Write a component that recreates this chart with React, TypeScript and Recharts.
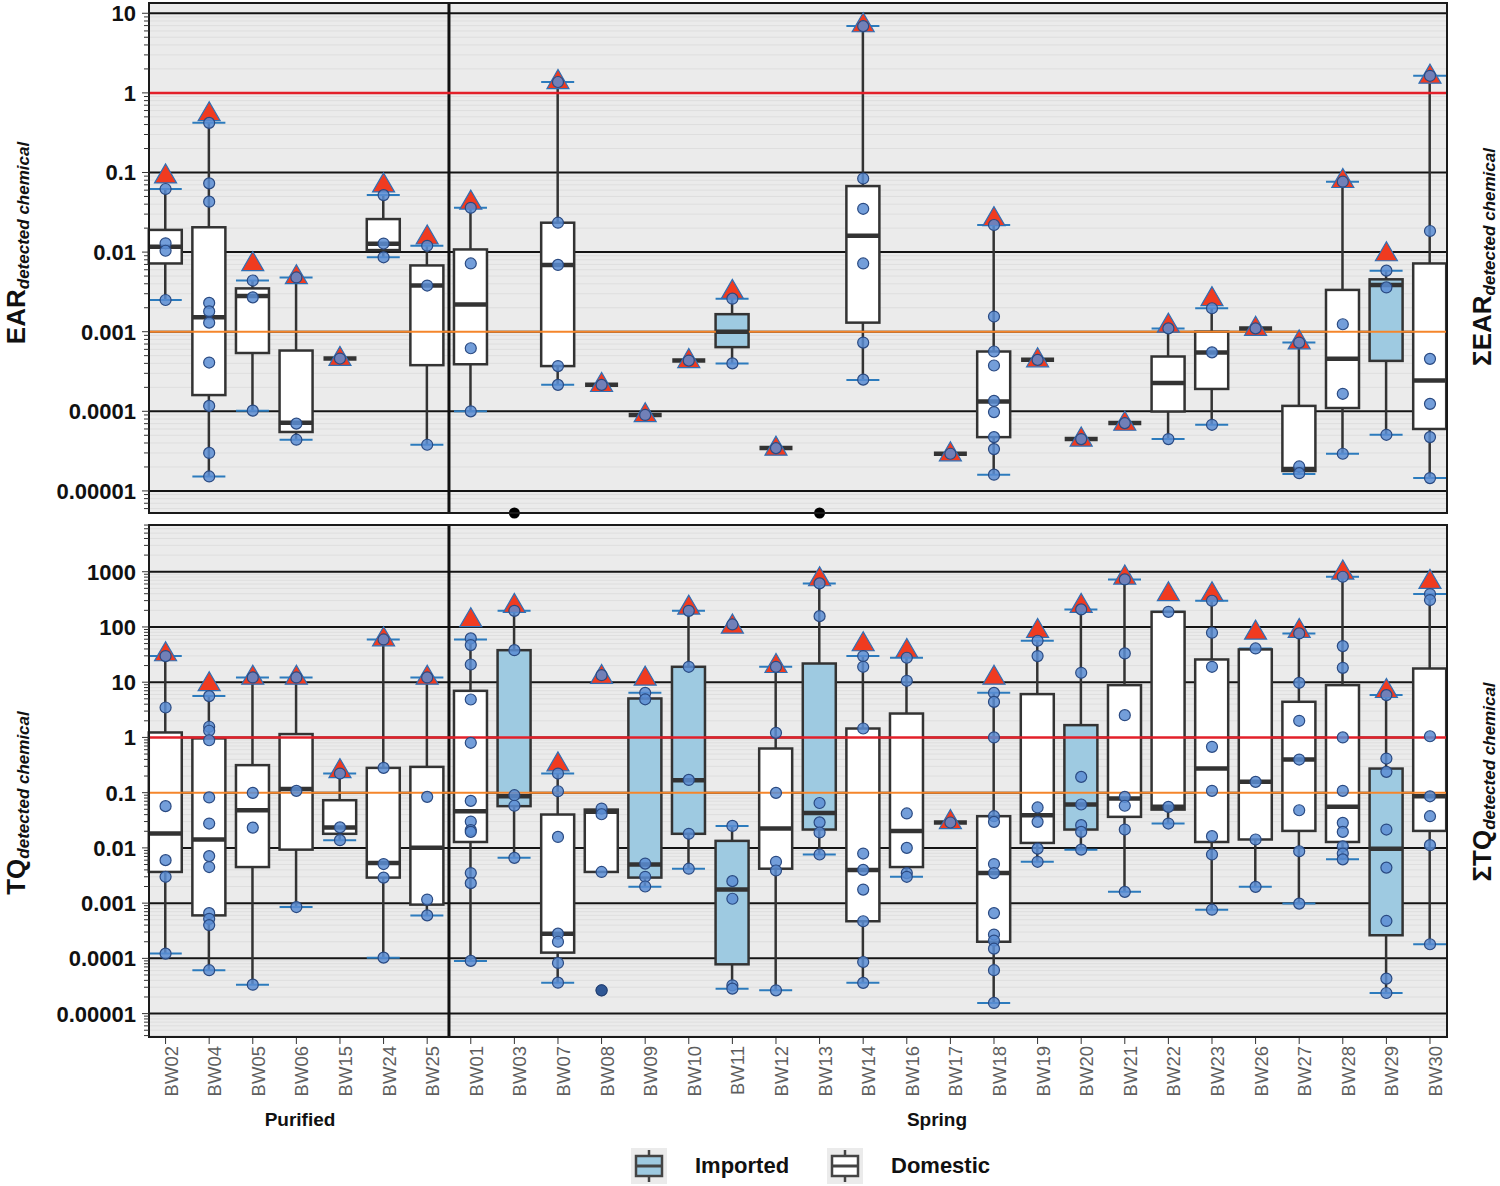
import React from "react";
import { ComposedChart, Bar, Scatter, XAxis, YAxis, CartesianGrid, ReferenceLine, ReferenceArea } from "recharts";

// sampling sites, in plotting order
const sites = [
  "BW02", "BW04", "BW05", "BW06", "BW15", "BW24", "BW25",
  "BW01", "BW03", "BW07", "BW08", "BW09", "BW10", "BW11", "BW12", "BW13", "BW14", "BW16",
  "BW17", "BW18", "BW19", "BW20", "BW21", "BW22", "BW23", "BW26", "BW27", "BW28", "BW29", "BW30",
];
const groupNames = ["Purified", "Spring"];

// ---- EAR panel ----
const earImported = ["BW11", "BW29"];
const earLow = [0.0025, 0.0000152, 0.000102, 0.000044, null, 0.0086, 0.000038, 0.0001, null, 0.000215, null, null, null, 0.0004, null, null, 0.000248, null, null, 0.000016, null, null, null, 0.0000448, 0.0000677, null, 0.0000163, 0.0000293, 0.0000507, 0.0000145];
const earHigh = [0.062, 0.42, 0.0044, 0.0048, null, 0.052, 0.012, 0.036, null, 1.37, null, null, null, 0.0026, null, null, 6.9, null, null, 0.0219, null, null, null, 0.0011, 0.00197, null, 0.00073, 0.0766, 0.00585, 1.64];
const earQ1 = [0.0072, 0.00016, 0.00054, 0.000055, null, 0.0106, 0.00038, 0.00039, null, 0.00037, null, null, null, 0.00064, null, null, 0.0013, null, null, 0.0000474, null, null, null, 0.0000995, 0.000191, null, 0.0000178, 0.00011, 0.00043, 0.00006];
const earQ3 = [0.019, 0.0205, 0.0035, 0.00058, null, 0.026, 0.0068, 0.0108, null, 0.0234, null, null, null, 0.00166, null, null, 0.0675, null, null, 0.000564, null, null, null, 0.000488, 0.001, null, 0.000117, 0.00335, 0.00455, 0.0072];
const earMedian = [0.0117, 0.00152, 0.0028, 0.000072, 0.00046, 0.0127, 0.0038, 0.0022, null, 0.0069, 0.000215, 0.00009, 0.000434, 0.001, 0.0000345, null, 0.016, null, 0.0000293, 0.000133, 0.000443, 0.0000448, 0.0000711, 0.000226, 0.000547, 0.0011, 0.0000188, 0.000456, 0.00386, 0.000244];
const earSum = [0.096, 0.58, 0.0076, 0.0052, 0.00049, 0.074, 0.0164, 0.045, null, 1.47, 0.00023, 0.000096, 0.00046, 0.0034, 0.0000365, null, 7.6, null, 0.000031, 0.0279, 0.00047, 0.0000475, 0.000075, 0.00128, 0.00276, 0.00117, 0.00079, 0.084, 0.0101, 1.72];
const earPoints = [
  [0.062, 0.0129, 0.0104, 0.0025],
  [0.42, 0.073, 0.043, 0.0023, 0.0018, 0.0013, 0.00041, 0.000117, 0.00003, 0.0000152],
  [0.0044, 0.0027, 0.000102],
  [0.0048, 0.00007, 0.000044],
  [0.00046],
  [0.052, 0.0128, 0.0086],
  [0.012, 0.0038, 0.000038],
  [0.036, 0.0072, 0.00062, 0.0001],
  [],
  [1.37, 0.0234, 0.0069, 0.00037, 0.000215],
  [0.000215],
  [0.00009],
  [0.000434],
  [0.0026, 0.0004],
  [0.0000345],
  [],
  [6.9, 0.084, 0.035, 0.0072, 0.00073, 0.00025],
  [],
  [0.0000293],
  [0.0219, 0.00155, 0.000564, 0.000376, 0.000135, 0.0000977, 0.0000474, 0.0000335, 0.000016],
  [0.000443],
  [0.0000448],
  [0.0000711],
  [0.0011, 0.0000448],
  [0.00197, 0.00055, 0.0000677],
  [0.0011],
  [0.00073, 0.0000203, 0.0000167],
  [0.0766, 0.00124, 0.000166, 0.0000293],
  [0.00585, 0.0036, 0.0000507],
  [1.64, 0.0184, 0.000456, 0.000124, 0.0000474, 0.0000145],
];
const earNonDetect = ["BW03", "BW13"];
const earTicks = [10, 1, 0.1, 0.01, 0.001, 0.0001, 0.00001];
const earTickLabels = ["10", "1", "0.1", "0.01", "0.001", "0.0001", "0.00001"];
const earRange = [0.00000528, 13.46];
const earRedLine = 1;
const earOrangeLine = 0.001;

// ---- TQ panel ----
const tqImported = ["BW03", "BW09", "BW10", "BW11", "BW13", "BW20", "BW29"];
const tqLow = [0.000122, 0.000061, 0.0000334, 0.00085, 0.0138, 0.000103, 0.0006, 0.00009, 0.0066, 0.0000363, null, 0.00197, 0.0042, 0.0000283, 0.0000264, 0.0076, 0.0000363, 0.003, null, 0.0000156, 0.0056, 0.0093, 0.0016, 0.0276, 0.00076, 0.00197, 0.00098, 0.0062, 0.0000236, 0.00018];
const tqHigh = [29.7, 5.6, 12.2, 12.2, 0.222, 59.4, 12.2, 59.4, 196, 0.222, null, 6.43, 196, 0.025, 19, 615, 29.7, 27.7, null, 6.43, 56.3, 208, 726, 188, 298, 40.8, 76.4, 811, 5.84, 394];
const tqQ1 = [0.00367, 0.0006, 0.0045, 0.0093, 0.018, 0.0029, 0.00094, 0.0128, 0.057, 0.000127, 0.00367, 0.0029, 0.018, 0.000078, 0.0042, 0.0215, 0.00047, 0.0045, null, 0.0002, 0.0123, 0.0215, 0.0365, 0.0494, 0.0128, 0.0142, 0.0203, 0.0128, 0.000262, 0.0203];
const tqQ3 = [1.23, 0.96, 0.315, 1.15, 0.073, 0.281, 0.293, 6.98, 38, 0.0402, 0.0494, 5.07, 19, 0.0134, 0.63, 21.8, 1.45, 2.71, null, 0.0375, 6.09, 1.67, 8.85, 188, 25.8, 39.2, 4.42, 8.85, 0.273, 17.7];
const tqMedian = [0.0182, 0.0142, 0.048, 0.117, 0.0233, 0.00535, 0.0101, 0.046, 0.086, 0.00028, 0.0449, 0.005, 0.168, 0.00176, 0.0224, 0.043, 0.004, 0.0203, 0.0288, 0.0035, 0.039, 0.061, 0.078, 0.0553, 0.273, 0.157, 0.398, 0.0553, 0.0097, 0.086];
const tqSum = [35.6, 10.2, 13.4, 13.4, 0.273, 66.4, 13.4, 147, 267, 0.361, 13.8, 12.9, 249, 113, 21.8, 811, 54, 40.8, 0.0326, 13.4, 94, 267, 871, 435, 435, 87.7, 94, 1072, 7.69, 726];
const tqPoints = [
  [29.7, 3.48, 0.057, 0.006, 0.003, 0.000122],
  [5.6, 1.56, 1.32, 0.89, 0.082, 0.0276, 0.0071, 0.0045, 0.00066, 0.00052, 0.0004, 0.000061],
  [12.2, 0.099, 0.0233, 0.0000334],
  [12.2, 0.108, 0.00085],
  [0.222, 0.0235, 0.0138],
  [59.4, 0.281, 0.0051, 0.0029, 0.000103],
  [12.2, 0.084, 0.00116, 0.0006],
  [62, 47, 20.9, 4.86, 0.8, 0.071, 0.03, 0.021, 0.0195, 0.0035, 0.0023, 0.00009],
  [196, 38, 0.09, 0.058, 0.0066],
  [0.222, 0.106, 0.0158, 0.00028, 0.0002, 0.0000826, 0.0000363],
  [13.4, 0.0515, 0.0407, 0.00367, 0.0000264],
  [6.4, 4.9, 0.0052, 0.003, 0.002],
  [196, 19, 0.17, 0.018, 0.0042],
  [111, 0.025, 0.0025, 0.0012, 0.0000325, 0.0000283],
  [19, 1.21, 0.099, 0.0056, 0.0039, 0.0000264],
  [615, 157, 0.065, 0.029, 0.019, 0.0076],
  [29.7, 19, 1.45, 0.0079, 0.004, 0.00176, 0.00047, 0.000086, 0.000036],
  [27.7, 10.6, 0.042, 0.01, 0.0035, 0.003],
  [0.0288],
  [6.4, 4.4, 1.0, 0.0375, 0.0296, 0.0051, 0.0035, 0.00066, 0.00027, 0.00021, 0.00015, 0.000061, 0.0000156],
  [56.3, 29.7, 0.054, 0.0296, 0.0097, 0.0056],
  [208, 14.8, 0.193, 0.061, 0.0258, 0.0195, 0.0093],
  [726, 33.2, 2.53, 0.084, 0.058, 0.0215, 0.0016],
  [188, 0.0553, 0.0276],
  [298, 78.5, 19, 0.676, 0.108, 0.0163, 0.0076, 0.00076],
  [40.8, 0.157, 0.0142, 0.00197],
  [76.4, 9.75, 2.0, 0.398, 0.048, 0.0087, 0.00098],
  [811, 45, 18.2, 1.0, 0.108, 0.0284, 0.0195, 0.0107, 0.0079, 0.0062],
  [5.84, 0.415, 0.238, 0.0215, 0.0044, 0.000476, 0.000043, 0.0000236],
  [394, 307, 1.05, 0.086, 0.0375, 0.0112, 0.00018],
];
const tqOutlierSites = ["BW08"];
const tqOutlierValues = [0.0000264];
const tqTicks = [1000, 100, 10, 1, 0.1, 0.01, 0.001, 0.0001, 0.00001];
const tqTickLabels = ["1000", "100", "10", "1", "0.1", "0.01", "0.001", "0.0001", "0.00001"];
const tqRange = [0.00000377, 7015];
const tqRedLine = 1;
const tqOrangeLine = 0.1;

// x domain (site index units) so the first/last sites sit close to the panel border
const XMIN = -0.38;
const XMAX = 29.39;
const BOX_W = 33;
const idx = sites.map((_, i) => i);
const divider = 6.5;

const lg = (v: number | null | undefined) => (v == null ? null : Math.log10(v));

function logTicks(range: number[]) {
  const lo = Math.log10(range[0]);
  const hi = Math.log10(range[1]);
  const out: number[] = [];
  for (let d = Math.floor(lo); d <= Math.ceil(hi); d++) {
    for (let k = 1; k <= 9; k++) {
      const t = d + Math.log10(k);
      if (t >= lo && t <= hi) out.push(t);
    }
  }
  return out;
}

function buildPanel(p: any) {
  const rows = sites.map((s, i) => ({
    i,
    site: s,
    imported: p.imported.includes(s),
    whisk: p.low[i] != null ? [lg(p.low[i]), lg(p.high[i])] : null,
    box: p.q1[i] != null ? [lg(p.q1[i]), lg(p.q3[i])] : null,
  }));
  const medians = sites.flatMap((_, i) => (p.median[i] == null ? [] : [{ i, y: lg(p.median[i]) }]));
  const sums = sites.flatMap((_, i) => (p.sum[i] == null ? [] : [{ i, y: lg(p.sum[i]) }]));
  const dots = sites.flatMap((_, i) => p.points[i].map((v: number) => ({ i, y: lg(v) })));
  const labels: Record<number, string> = {};
  p.ticks.forEach((t: number, k: number) => (labels[Math.round(Math.log10(t))] = p.tickLabels[k]));
  const domain = [Math.log10(p.range[0]), Math.log10(p.range[1])];
  const decades = p.ticks.map((t: number) => Math.round(Math.log10(t)));
  return { rows, medians, sums, dots, labels, domain, decades, axisTicks: logTicks(p.range) };
}

const ear = buildPanel({ imported: earImported, low: earLow, high: earHigh, q1: earQ1, q3: earQ3, median: earMedian, sum: earSum, points: earPoints, ticks: earTicks, tickLabels: earTickLabels, range: earRange });
const tq = buildPanel({ imported: tqImported, low: tqLow, high: tqHigh, q1: tqQ1, q3: tqQ3, median: tqMedian, sum: tqSum, points: tqPoints, ticks: tqTicks, tickLabels: tqTickLabels, range: tqRange });
const earNd = earNonDetect.map((s) => ({ i: sites.indexOf(s), y: ear.domain[0] }));
const tqOut = tqOutlierSites.map((s, k) => ({ i: sites.indexOf(s), y: lg(tqOutlierValues[k]) }));

function WhiskerShape(props: any) {
  const { x, y, width, height } = props;
  if (x == null || y == null) return null;
  const top = Math.min(y, y + height);
  const bot = Math.max(y, y + height);
  const cx = x + width / 2;
  return (
    <g>
      <line x1={cx} x2={cx} y1={top} y2={bot} stroke="#333" strokeWidth={2.5} />
      <line x1={x} x2={x + width} y1={top} y2={top} stroke="#2c7bbd" strokeWidth={2} />
      <line x1={x} x2={x + width} y1={bot} y2={bot} stroke="#2c7bbd" strokeWidth={2} />
    </g>
  );
}

function BoxShape(props: any) {
  const { x, y, width, height, payload } = props;
  if (x == null || y == null) return null;
  return (
    <rect
      x={x}
      y={Math.min(y, y + height)}
      width={width}
      height={Math.abs(height)}
      fill={payload.imported ? "#9ecae1" : "#ffffff"}
      stroke="#333"
      strokeWidth={2.5}
    />
  );
}

const MedianShape = (p: any) => (
  <line x1={p.cx - BOX_W / 2} x2={p.cx + BOX_W / 2} y1={p.cy} y2={p.cy} stroke="#333" strokeWidth={4.5} />
);
const TriangleShape = (p: any) => (
  <polygon
    points={`${p.cx},${p.cy - 10} ${p.cx - 11},${p.cy + 9} ${p.cx + 11},${p.cy + 9}`}
    fill="#f03b20"
    stroke="#2f6fb5"
    strokeWidth={1.2}
  />
);
const DotShape = (p: any) => (
  <circle cx={p.cx} cy={p.cy} r={5.5} fill="#5b8dd3" fillOpacity={0.85} stroke="#2a4a82" strokeWidth={1.2} />
);
const OutlierShape = (p: any) => <circle cx={p.cx} cy={p.cy} r={5.5} fill="#2f5795" stroke="#233f6e" strokeWidth={1} />;
const NdShape = (p: any) => <circle cx={p.cx} cy={p.cy} r={5.5} fill="#000" />;

function LogTick(props: any) {
  const { x, y, payload, labels } = props;
  const v = payload.value as number;
  const e = Math.round(v);
  const major = Math.abs(v - e) < 1e-6;
  return (
    <g>
      <line x1={x - (major ? 7 : 5)} x2={x} y1={y} y2={y} stroke="#333" strokeWidth={1} />
      {major && labels[e] != null && (
        <text x={x - 13} y={y} dy={8} textAnchor="end" fontSize={22} fontWeight={700} fill="#111">
          {labels[e]}
        </text>
      )}
    </g>
  );
}

function SiteTick(props: any) {
  const { x, y, payload } = props;
  return (
    <text x={x} y={y} transform={`rotate(-90 ${x} ${y})`} textAnchor="end" dy={12} fontSize={18.5} fill="#5e5e5e">
      {sites[payload.value]}
    </text>
  );
}

function Panel({ panel, redLine, orangeLine, height, margin, showX, nd, outliers }: any) {
  return (
    <ComposedChart width={1500} height={height} data={panel.rows} margin={margin}>
      <CartesianGrid vertical={false} stroke="#dedede" strokeWidth={1} fill="#ebebeb" />
      <XAxis
        type="number"
        dataKey="i"
        domain={[XMIN, XMAX]}
        ticks={idx}
        interval={0}
        hide={!showX}
        height={showX ? 83 : 0}
        axisLine={false}
        tickLine={{ stroke: "#333" }}
        tickSize={7}
        tickMargin={2}
        tick={<SiteTick />}
      />
      <XAxis xAxisId="xw" type="number" dataKey="i" domain={[XMIN, XMAX]} ticks={idx} hide />
      <XAxis xAxisId="xb" type="number" dataKey="i" domain={[XMIN, XMAX]} ticks={idx} hide />
      <YAxis
        type="number"
        domain={panel.domain}
        ticks={panel.axisTicks}
        interval={0}
        width={75}
        tickSize={0}
        tickMargin={0}
        axisLine={false}
        tickLine={false}
        tick={<LogTick labels={panel.labels} />}
      />
      {panel.decades.map((d: number) => (
        <ReferenceLine key={d} y={d} stroke="#141414" strokeWidth={2} zIndex={-60} />
      ))}
      <Bar xAxisId="xw" dataKey="whisk" barSize={BOX_W} shape={WhiskerShape} isAnimationActive={false} />
      <Bar xAxisId="xb" dataKey="box" barSize={BOX_W} shape={BoxShape} isAnimationActive={false} />
      <ReferenceLine x={divider} stroke="#111" strokeWidth={3} zIndex={350} />
      <ReferenceLine y={Math.log10(orangeLine)} stroke="#f5862b" strokeWidth={2} zIndex={350} />
      <ReferenceLine y={Math.log10(redLine)} stroke="#e3202a" strokeWidth={2.5} zIndex={350} />
      <Scatter data={panel.medians} dataKey="y" shape={MedianShape} isAnimationActive={false} />
      <Scatter data={panel.sums} dataKey="y" shape={TriangleShape} isAnimationActive={false} />
      <Scatter data={panel.dots} dataKey="y" shape={DotShape} isAnimationActive={false} />
      {outliers && <Scatter data={outliers} dataKey="y" shape={OutlierShape} isAnimationActive={false} />}
      {nd && <Scatter data={nd} dataKey="y" shape={NdShape} isAnimationActive={false} />}
      <ReferenceArea
        x1={XMIN}
        x2={XMAX}
        y1={panel.domain[0]}
        y2={panel.domain[1]}
        fill="none"
        fillOpacity={0}
        stroke="#1a1a1a"
        strokeWidth={2}
        zIndex={700}
      />
    </ComposedChart>
  );
}

function SideTitle({ x, y, main }: { x: number; y: number; main: string }) {
  return (
    <div
      style={{
        position: "absolute",
        left: x,
        top: y,
        transform: "translate(-50%, -50%) rotate(-90deg)",
        whiteSpace: "nowrap",
        fontWeight: 700,
        color: "#111",
        lineHeight: 1,
      }}
    >
      <span style={{ fontSize: 26 }}>{main}</span>
      <span style={{ fontSize: 17, fontStyle: "italic", position: "relative", top: 4 }}>detected chemical</span>
    </div>
  );
}

function LegendIcon({ fill }: { fill: string }) {
  return (
    <svg width={36} height={36} style={{ background: "#ebebeb", display: "block" }}>
      <line x1={18} x2={18} y1={2} y2={34} stroke="#444" strokeWidth={2.5} />
      <rect x={5} y={8} width={26} height={20} fill={fill} stroke="#444" strokeWidth={2.5} />
      <line x1={5} x2={31} y1={18} y2={18} stroke="#444" strokeWidth={3} />
    </svg>
  );
}

export default function App() {
  const legendItems = [
    { label: "Imported", fill: "#9ecae1", x: 631 },
    { label: "Domestic", fill: "#ffffff", x: 827 },
  ];
  const groupCenters = [300, 937];
  return (
    <div
      style={{
        position: "absolute",
        left: 0,
        top: 0,
        width: 1500,
        height: 1186,
        background: "#fff",
        fontFamily: "'Liberation Sans', Arial, Helvetica, sans-serif",
        overflow: "hidden",
      }}
    >
      <div style={{ position: "absolute", left: 0, top: 0 }}>
        <Panel
          panel={ear}
          redLine={earRedLine}
          orangeLine={earOrangeLine}
          height={520}
          margin={{ top: 3, right: 53, bottom: 7, left: 74 }}
          showX={false}
          nd={earNd}
        />
      </div>
      <div style={{ position: "absolute", left: 0, top: 520 }}>
        <Panel
          panel={tq}
          redLine={tqRedLine}
          orangeLine={tqOrangeLine}
          height={600}
          margin={{ top: 5, right: 53, bottom: 0, left: 74 }}
          showX={true}
          outliers={tqOut}
        />
      </div>

      <SideTitle x={16} y={243} main="EAR" />
      <SideTitle x={1482} y={257} main={"\u03a3EAR"} />
      <SideTitle x={16} y={803} main="TQ" />
      <SideTitle x={1482} y={782} main={"\u03a3TQ"} />

      {groupNames.map((g, k) => (
        <div
          key={g}
          style={{
            position: "absolute",
            left: groupCenters[k],
            top: 1120,
            transform: "translate(-50%, -50%)",
            fontWeight: 700,
            fontSize: 19,
            color: "#111",
          }}
        >
          {g}
        </div>
      ))}

      {legendItems.map((it) => (
        <div key={it.label} style={{ position: "absolute", left: it.x, top: 1148, display: "flex", alignItems: "center" }}>
          <LegendIcon fill={it.fill} />
          <span style={{ marginLeft: 28, fontSize: 22, fontWeight: 700, color: "#111" }}>{it.label}</span>
        </div>
      ))}
    </div>
  );
}
